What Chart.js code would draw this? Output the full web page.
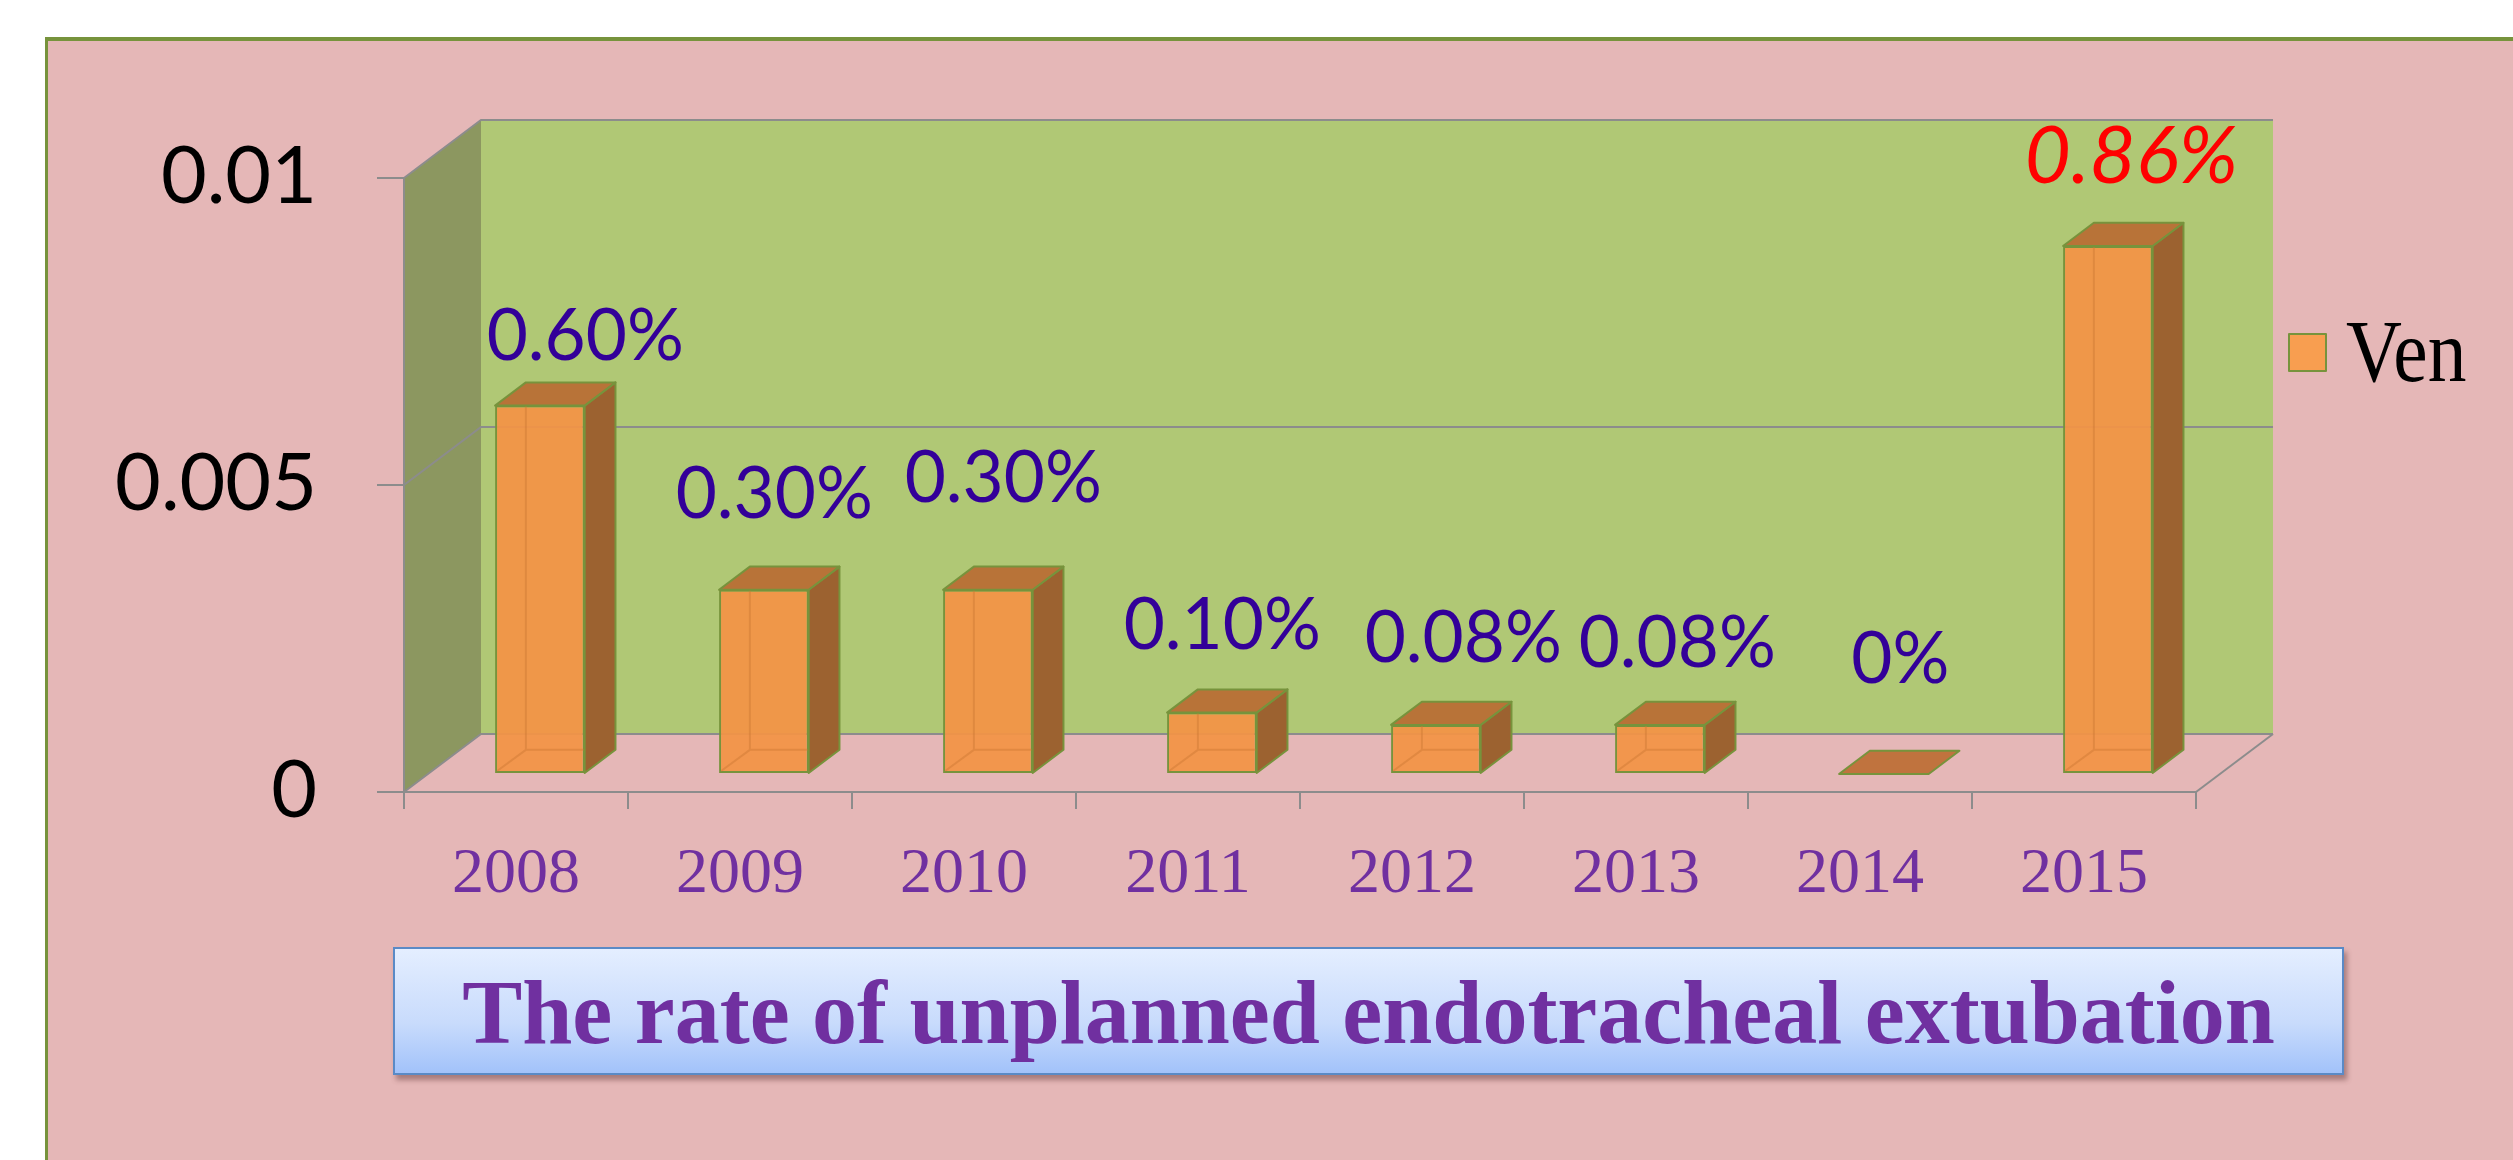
<!DOCTYPE html>
<html>
<head>
<meta charset="utf-8">
<script src="https://cdn.jsdelivr.net/npm/chart.js@4.4.1/dist/chart.umd.min.js"></script>
<style>
html,body{margin:0;padding:0;background:#fff;width:2513px;height:1160px;overflow:hidden}
#frame{position:absolute;left:45px;top:37px;width:2480px;height:1140px;background:#E5B7B7;border-left:3px solid #77933C;border-top:4px solid #77933C;box-sizing:border-box}
#c{position:absolute;left:0;top:0}
#title{position:absolute;left:393px;top:947px;width:1951px;height:128px;box-sizing:border-box;border:2px solid #5A8AC6;padding-top:4px;line-height:120px;text-align:center;
background:linear-gradient(#E4EEFF,#C8DBFC 60%,#A2C2FA);box-shadow:3px 5px 5px rgba(90,50,50,0.45);
font-family:"Liberation Serif",serif;font-weight:bold;font-size:90px;color:#7030A0;white-space:nowrap}
</style>
</head>
<body>
<div id="frame"></div>
<canvas id="c" width="2513" height="1160"></canvas>
<div id="title">The rate of unplanned endotracheal extubation</div>
<script>
// ---------- data ----------
const categories = ['2008', '2009', '2010', '2011', '2012', '2013', '2014', '2015'];
const rateValues = [0.006, 0.003, 0.003, 0.001, 0.0008, 0.0008, 0, 0.0086];
const valueLabels = ['0.60%', '0.30%', '0.30%', '0.10%', '0.08%', '0.08%', '0%', '0.86%'];
const yTickValues = [0, 0.005, 0.01];
const seriesName = 'Ven';

// ---------- style ----------
const DEPTH = { dx: 77, dy: 58 };        // floor depth projection (px)
const BAR_FRONT = 0.31, BAR_BACK = 0.71;  // bar position inside the depth
const labelNudge = [[30, -22], [-5, -49], [0, -65], [-5, -40], [12, -40], [2, -35], [1, -68], [8, -40]];
const GRID = '#8C8C8C';
const EDGE = '#77933C';

function barBox(el) {
  const p = el.getProps(['x', 'y', 'base', 'width'], true);
  const fx = DEPTH.dx * BAR_FRONT, fy = DEPTH.dy * BAR_FRONT;
  const ddx = DEPTH.dx * (BAR_BACK - BAR_FRONT), ddy = DEPTH.dy * (BAR_BACK - BAR_FRONT);
  return { l: p.x - p.width / 2 + fx, r: p.x + p.width / 2 + fx, t: p.y - fy, b: p.base - fy, ddx, ddy };
}
function poly(ctx, pts, fill, stroke) {
  ctx.beginPath();
  ctx.moveTo(pts[0][0], pts[0][1]);
  for (let i = 1; i < pts.length; i++) ctx.lineTo(pts[i][0], pts[i][1]);
  ctx.closePath();
  if (fill) { ctx.fillStyle = fill; ctx.fill(); }
  if (stroke) { ctx.strokeStyle = stroke; ctx.lineWidth = 2; ctx.lineJoin = 'round'; ctx.stroke(); }
}

const threeD = {
  id: 'threeD',
  beforeDraw(chart) {
    const { ctx, chartArea: a, scales: { y } } = chart;
    const L = a.left, R = a.right, T = y.getPixelForValue(y.max), B = y.getPixelForValue(0);
    const dx = DEPTH.dx, dy = DEPTH.dy;
    ctx.save();
    poly(ctx, [[L, B], [L, T], [L + dx, T - dy], [L + dx, B - dy]], '#8C9760');
    ctx.fillStyle = '#B0C875';
    ctx.fillRect(L + dx, T - dy, R - L, B - T);
    ctx.strokeStyle = GRID; ctx.lineWidth = 2;
    yTickValues.forEach(v => {
      const py = y.getPixelForValue(v);
      ctx.beginPath(); ctx.moveTo(L, py); ctx.lineTo(L + dx, py - dy); ctx.lineTo(R + dx, py - dy); ctx.stroke();
    });
    ctx.beginPath(); ctx.moveTo(R, B); ctx.lineTo(R + dx, B - dy); ctx.stroke();
    ctx.restore();
  },
  beforeDatasetsDraw(chart) {
    const ctx = chart.ctx;
    ctx.save();
    ctx.translate(DEPTH.dx * BAR_FRONT, -DEPTH.dy * BAR_FRONT);
  },
  afterDatasetsDraw(chart) {
    const ctx = chart.ctx;
    ctx.restore();
    const meta = chart.getDatasetMeta(0);
    const maxIdx = rateValues.indexOf(Math.max(...rateValues));
    ctx.save();
    meta.data.forEach((el, i) => {
      const bx = barBox(el);
      const { l, r, t, b, ddx, ddy } = bx;
      if (b - t > 1) {
        // hidden back edges seen through the translucent front
        ctx.strokeStyle = 'rgba(205,120,50,0.45)'; ctx.lineWidth = 2;
        ctx.beginPath();
        ctx.moveTo(l + 2, b - 2); ctx.lineTo(l + ddx, b - ddy);
        ctx.lineTo(r, b - ddy);
        ctx.moveTo(l + ddx, b - ddy); ctx.lineTo(l + ddx, t);
        ctx.stroke();
        poly(ctx, [[r, t], [r + ddx, t - ddy], [r + ddx, b - ddy], [r, b]], '#9C6230', EDGE);
      }
      poly(ctx, [[l, t], [r, t], [r + ddx, t - ddy], [l + ddx, t - ddy]], (b - t > 1) ? '#B87338' : '#C0733E', EDGE);
    });
    // value labels
    ctx.textAlign = 'center';
    ctx.textBaseline = 'alphabetic';
    meta.data.forEach((el, i) => {
      const { l, r, t, ddx, ddy } = barBox(el);
      const ax = (l + r) / 2 + ddx / 2 + labelNudge[i][0];
      const ay = t - ddy + labelNudge[i][1];
      if (i === maxIdx) { ctx.font = 'italic 80px Lato'; ctx.fillStyle = '#FF0000'; }
      else { ctx.font = '71px Lato'; ctx.fillStyle = '#330099'; }
      ctx.fillText(valueLabels[i], ax, ay);
    });
    // legend
    const R = chart.chartArea.right;
    const sx = R + 93, sy = 334, ss = 37;
    ctx.fillStyle = '#F89E50'; ctx.fillRect(sx, sy, ss, ss);
    ctx.strokeStyle = EDGE; ctx.lineWidth = 2; ctx.strokeRect(sx, sy, ss, ss);
    ctx.save();
    ctx.translate(sx + 57, 381);
    ctx.scale(0.87, 1);
    ctx.font = '89px "Liberation Serif"';
    ctx.fillStyle = '#000';
    ctx.textAlign = 'left';
    ctx.fillText(chart.data.datasets[0].label, 0, 0);
    ctx.restore();
    ctx.restore();
  }
};

function build() {
  new Chart(document.getElementById('c'), {
    type: 'bar',
    data: {
      labels: categories,
      datasets: [{
        label: seriesName,
        data: rateValues,
        backgroundColor: 'rgba(242,148,70,0.94)',
        borderColor: EDGE,
        borderWidth: 2,
        borderSkipped: false,
        barPercentage: 0.4,
        categoryPercentage: 1,
        clip: false
      }]
    },
    options: {
      responsive: false,
      devicePixelRatio: 1,
      animation: false,
      layout: { padding: { left: 0, right: 317, top: 178, bottom: 0 } },
      plugins: { legend: { display: false }, title: { display: false }, tooltip: { enabled: false } },
      scales: {
        x: {
          afterFit: s => { s.height = 368; },
          grid: { display: true, drawOnChartArea: false, drawTicks: true, tickLength: 17, color: GRID, lineWidth: 2, offset: true },
          border: { display: true, color: GRID, width: 2 },
          ticks: { color: '#7030A0', padding: 28, font: { family: '"Liberation Serif"', size: 64 } }
        },
        y: {
          min: 0, max: 0.01,
          afterFit: s => { s.width = 404; },
          afterBuildTicks: s => { s.ticks = yTickValues.map(v => ({ value: v })); },
          grid: { display: true, drawOnChartArea: false, drawTicks: true, tickLength: 27, color: GRID, lineWidth: 2 },
          border: { display: true, color: GRID, width: 2 },
          ticks: { color: '#000', padding: 60, font: { family: 'Lato', size: 79 }, callback: v => String(v) }
        }
      }
    },
    plugins: [threeD]
  });
}
if (document.fonts && document.fonts.load) {
  Promise.all([document.fonts.load('71px Lato'), document.fonts.load('italic 80px Lato'), document.fonts.load('64px "Liberation Serif"')]).then(build, build);
} else build();
</script>
</body>
</html>
